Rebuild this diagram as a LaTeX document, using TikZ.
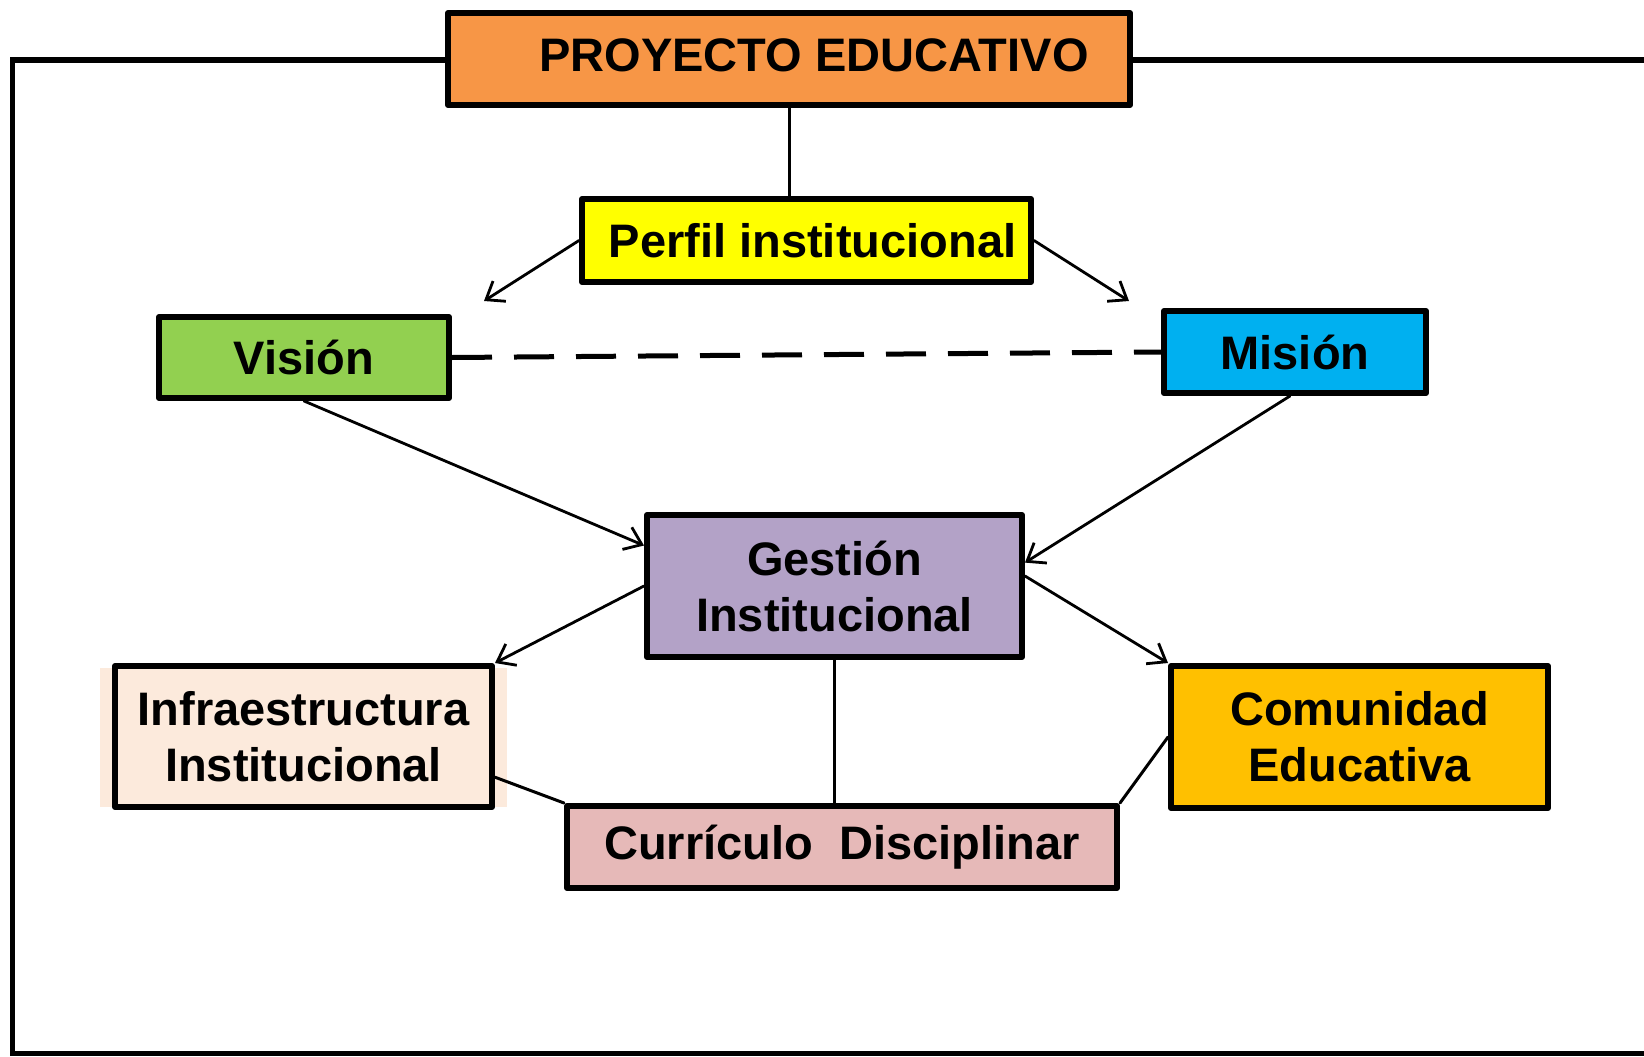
\documentclass[tikz,border=0pt]{standalone}
\usepackage{fontspec}
\setmainfont{Liberation Sans}
\usetikzlibrary{arrows.meta}
\definecolor{naranja}{HTML}{F79646}
\definecolor{amarillo}{HTML}{FFFF00}
\definecolor{verde}{HTML}{92D050}
\definecolor{celeste}{HTML}{00B0F0}
\definecolor{lila}{HTML}{B3A2C7}
\definecolor{crema}{HTML}{FCEADC}
\definecolor{oro}{HTML}{FFC000}
\definecolor{rosa}{HTML}{E6B9B8}
\begin{document}
\begin{tikzpicture}[x=1pt,y=-1pt,line cap=round,line join=round,>={Straight Barb[length=16pt,width=24pt]},
	caja/.style={draw,line width=6pt,inner sep=0pt,font=\fontsize{47}{56}\selectfont\bfseries,align=center},
	flecha/.style={->,line width=2.8pt},
	enlace/.style={line width=3pt}]
			\useasboundingbox (0,0) rectangle (1644,1057);
			\draw[line width=5.5pt,line cap=butt,line join=miter] (1644,60)--(12.6,60)--(12.6,1053.5)--(1644,1053.5);
			\fill[crema] (100,668) rectangle (507,807);
			\path (789,59)node[caja,fill=naranja,minimum width=682pt,minimum height=92pt](P){\raisebox{7pt}{\hspace*{50pt}PROYECTO EDUCATIVO}}
			(806.5,240.5)node[caja,fill=amarillo,minimum width=449pt,minimum height=83pt](perfil){\hspace*{12pt}Perfil institucional}
			(304,357.5)node[caja,fill=verde,minimum width=290pt,minimum height=81pt](vision){Visión}
			(1295,352)node[caja,fill=celeste,minimum width=262pt,minimum height=82pt](mision){Misión}
			(834.5,586)node[caja,fill=lila,minimum width=375pt,minimum height=142pt](gestion){Gestión\\Institucional}
			(303.5,736.5)node[caja,fill=crema,minimum width=377pt,minimum height=141pt](infra){Infraestructura\\Institucional}
			(1359.5,737)node[caja,fill=oro,minimum width=377pt,minimum height=142pt](comunidad){Comunidad\\Educativa}
			(842,847)node[caja,fill=rosa,minimum width=550pt,minimum height=82pt](curriculo){Currículo\ \ Disciplinar}
			(484,301)coordinate(V') (1129,301)coordinate(M');
			\draw[enlace] (P.south)--(P.south |- perfil.north);
			\draw[flecha] (perfil.west)--(V');
			\draw[flecha] (perfil.east)--(M');
			\draw[line width=5pt,line cap=butt,dash pattern=on 40pt off 22pt] (vision.east)--(mision.west);
			\draw[flecha] (vision.south)--(gestion.168);
			\draw[flecha] ([xshift=-5pt]mision.south)--(gestion.7);
			\draw[flecha] (gestion.west)--(infra.north east);
			\draw[flecha] (gestion.3)--(comunidad.north west);
			\draw[enlace] (gestion.south)--(gestion.south |- curriculo.north);
			\draw[enlace] (infra.-12)--(curriculo.north west);
			\draw[enlace] (comunidad.west)--(curriculo.north east);
		\end{tikzpicture}
\end{document}
